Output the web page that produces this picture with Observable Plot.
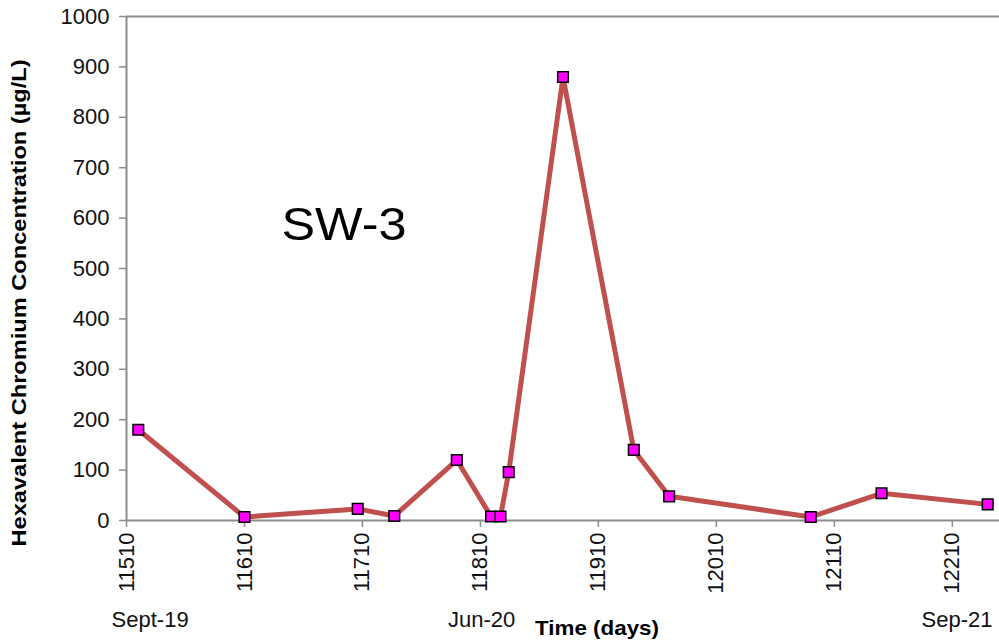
<!DOCTYPE html>
<html>
<head>
<meta charset="utf-8">
<script src="https://cdn.jsdelivr.net/npm/d3@7"></script>
<script src="https://cdn.jsdelivr.net/npm/@observablehq/plot@0.6"></script>
<style>
  html, body { margin: 0; padding: 0; background: #fff; }
  #chart svg { display: block; }
</style>
</head>
<body>
<div id="chart"></div>
<script>
const days = [11520, 11610, 11706, 11737, 11790, 11819, 11827, 11834, 11880, 11940, 11970, 12090, 12150, 12240];
const conc = [180, 7, 23, 9, 120, 8, 8, 96, 880, 140, 48, 7, 54, 32];
const xTicks = [11510, 11610, 11710, 11810, 11910, 12010, 12110, 12210];
const yTicks = [0, 100, 200, 300, 400, 500, 600, 700, 800, 900, 1000];
const dateLabels = ["Sept-19", "Jun-20", "Sep-21"];
const dateDays = [11530, 11811, 12214];
const stationLabel = "SW-3";
const yLabel = "Hexavalent Chromium Concentration (µg/L)";
const xLabel = "Time (days)";

const data = days.map((d, i) => ({day: d, conc: conc[i]}));
const dates = dateLabels.map((t, i) => ({day: dateDays[i], text: t}));

const font = "'Liberation Sans', Arial, sans-serif";
const axisGray = "#8c8c8c";

const plot = Plot.plot({
  width: 999,
  height: 641,
  marginLeft: 126,
  marginRight: 0,
  marginTop: 16,
  marginBottom: 121,
  style: {fontFamily: font, fontSize: "22px", color: "#111", background: "#fff", overflow: "visible"},
  x: {domain: [11510, 12250]},
  y: {domain: [0, 1000]},
  marks: [
    Plot.axisY({ticks: yTicks, tickSize: 7, tickPadding: 10, stroke: axisGray, strokeWidth: 1.5, tickFormat: d => String(d), label: null}),
    Plot.axisX({ticks: xTicks, tickRotate: -90, tickSize: 7, tickPadding: 5, stroke: axisGray, strokeWidth: 1.5, tickFormat: d => String(d), label: null}),
    Plot.ruleY([1000], {stroke: axisGray, strokeWidth: 2}),
    Plot.ruleY([0], {stroke: axisGray, strokeWidth: 2}),
    Plot.ruleX([11510], {stroke: axisGray, strokeWidth: 2}),
    Plot.line(data, {x: "day", y: "conc", stroke: "#c0504d", strokeWidth: 5}),
    Plot.dot(data, {x: "day", y: "conc", symbol: "square", r: 6, fill: "#ff00ff", stroke: "black", strokeWidth: 1.5}),
    Plot.text(dates, {x: "day", text: "text", frameAnchor: "bottom", dy: 99, fontSize: 22, fill: "#111", lineAnchor: "middle"})
  ]
});

const svg = d3.select(plot);
svg.append("text")
  .attr("x", 344).attr("y", 240)
  .attr("text-anchor", "middle")
  .attr("font-family", font)
  .attr("font-size", 47)
  .attr("textLength", 125)
  .attr("lengthAdjust", "spacingAndGlyphs")
  .attr("fill", "#000")
  .text(stationLabel);
svg.append("text")
  .attr("transform", "translate(26,303) rotate(-90)")
  .attr("text-anchor", "middle")
  .attr("font-family", font)
  .attr("font-size", 20)
  .attr("font-weight", "bold")
  .attr("textLength", 487)
  .attr("lengthAdjust", "spacingAndGlyphs")
  .attr("fill", "#000")
  .text(yLabel);
svg.append("text")
  .attr("x", 597).attr("y", 635)
  .attr("text-anchor", "middle")
  .attr("font-family", font)
  .attr("font-size", 21)
  .attr("font-weight", "bold")
  .attr("textLength", 124)
  .attr("lengthAdjust", "spacingAndGlyphs")
  .attr("fill", "#000")
  .text(xLabel);

document.getElementById("chart").appendChild(plot);
</script>
</body>
</html>
